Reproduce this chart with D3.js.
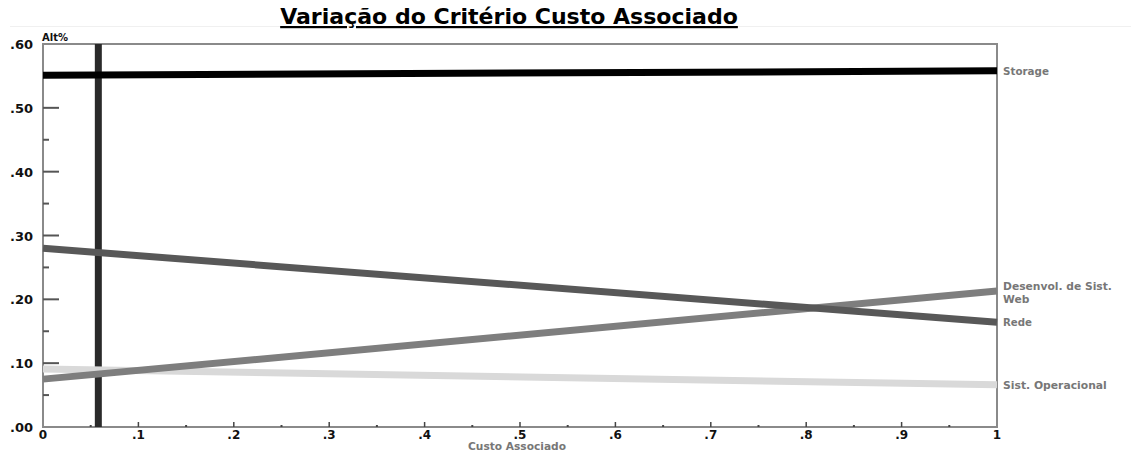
<!DOCTYPE html>
<html><head><meta charset="utf-8">
<script src="https://cdn.jsdelivr.net/npm/d3@7"></script>
<style>body{margin:0;background:#fff}svg{display:block}text{font-family:"DejaVu Sans",Verdana,sans-serif;font-weight:bold}</style>
</head><body><svg id="c" width="1131" height="454"></svg>
<script>
const seriesNames = ["Storage","Rede","Desenvol. de Sist. Web","Sist. Operacional"];
const xPoints = [0,1];
const storageValues = [0.551,0.558];
const redeValues = [0.280,0.164];
const webValues = [0.075,0.213];
const soValues = [0.091,0.066];
const currentWeight = 0.058;
const yTickValues = [0,0.1,0.2,0.3,0.4,0.5,0.6];
const yTickLabels = [".00",".10",".20",".30",".40",".50",".60"];
const xTickValues = [0,0.1,0.2,0.3,0.4,0.5,0.6,0.7,0.8,0.9,1];
const xTickLabels = ["0",".1",".2",".3",".4",".5",".6",".7",".8",".9","1"];

const svg = d3.select("#c");
const L=43,R=997,T=44,B=427;
const x = d3.scaleLinear().domain([0,1]).range([L,R]);
const y = d3.scaleLinear().domain([0,0.6]).range([B,T]);

function fit(sel, w){
  const n = sel.node(); const fs = +sel.attr("font-size") || 10;
  const cur = n.getComputedTextLength();
  if (cur>0) sel.attr("font-size", fs*w/cur);
  return sel;
}

// title
svg.append("line").attr("x1",10).attr("x2",1131).attr("y1",26.5).attr("y2",26.5).attr("stroke","#f0f0f0");
const title = svg.append("text").attr("x",509).attr("y",24).attr("text-anchor","middle").attr("font-size",18)
  .attr("text-decoration","underline").attr("fill","#000").text("Variação do Critério Custo Associado");
fit(title,458);

// frame
svg.append("rect").attr("x",L).attr("y",T).attr("width",R-L).attr("height",B-T)
  .attr("fill","none").attr("stroke","#8a8a8a").attr("stroke-width",2);

// y ticks
const yMinor = d3.range(0.05,0.6,0.1);
svg.append("g").selectAll("line.maj").data(yTickValues.slice(1,-1)).join("line")
  .attr("x1",L).attr("x2",L+16).attr("y1",d=>y(d)).attr("y2",d=>y(d)).attr("stroke","#555").attr("stroke-width",2);
svg.append("g").selectAll("line").data(yMinor).join("line")
  .attr("x1",L).attr("x2",L+6).attr("y1",d=>y(d)).attr("y2",d=>y(d)).attr("stroke","#555").attr("stroke-width",2);
svg.append("g").selectAll("text").data(yTickValues).join("text")
  .attr("x",33).attr("y",d=>y(d)+5).attr("text-anchor","end").attr("font-size",13).attr("fill","#111")
  .text((d,i)=>yTickLabels[i]);
svg.append("text").attr("x",42).attr("y",41).attr("font-size",10).attr("fill","#111").text("Alt%");

// x ticks
const xMinor = d3.range(0.05,1,0.1);
svg.append("g").selectAll("line").data(xTickValues.slice(1,-1)).join("line")
  .attr("x1",d=>x(d)).attr("x2",d=>x(d)).attr("y1",B).attr("y2",B-5).attr("stroke","#444").attr("stroke-width",1.5);
svg.append("g").selectAll("line").data(xMinor).join("line")
  .attr("x1",d=>x(d)).attr("x2",d=>x(d)).attr("y1",B).attr("y2",B-2).attr("stroke","#444").attr("stroke-width",2);
svg.append("g").selectAll("text").data(xTickValues).join("text")
  .attr("x",d=>x(d)).attr("y",439).attr("text-anchor","middle").attr("font-size",12).attr("fill","#111")
  .text((d,i)=>xTickLabels[i]);
fit(svg.append("text").attr("x",517).attr("y",450).attr("text-anchor","middle").attr("font-size",9).attr("fill","#777").text("Custo Associado"),98);

// series
const line = d3.line().x((d,i)=>x(xPoints[i])).y(d=>y(d));
svg.append("line").attr("x1",x(currentWeight)).attr("x2",x(currentWeight)).attr("y1",T).attr("y2",B)
  .attr("stroke","#2a2a2a").attr("stroke-width",7);
const series = [
  {v:soValues,c:"#d9d9d9"},
  {v:webValues,c:"#7e7e7e"},
  {v:redeValues,c:"#585858"},
  {v:storageValues,c:"#000"}
];
svg.append("g").selectAll("path").data(series).join("path")
  .attr("d",d=>line(d.v)).attr("fill","none").attr("stroke",d=>d.c).attr("stroke-width",7);

// right labels
const lab = svg.append("g").attr("fill","#777");
fit(lab.append("text").attr("font-size",9.5).attr("x",1003).attr("y",y(storageValues[1])+4).text(seriesNames[0]),46);
fit(lab.append("text").attr("font-size",9.5).attr("x",1003).attr("y",y(redeValues[1])+4).text(seriesNames[1]),29);
const wt = lab.append("text").attr("font-size",9.5).attr("x",1003).attr("y",y(webValues[1])-1);
wt.append("tspan").attr("x",1003).text("Desenvol. de Sist.");
const w2 = wt.append("tspan").attr("x",1003).attr("dy",13).text("Web");
const wl = wt.node().getSubStringLength(0,18);
if (wl>0) wt.attr("font-size",9.5*109/wl);
fit(lab.append("text").attr("font-size",9.5).attr("x",1003).attr("y",y(soValues[1])+4).text(seriesNames[3]),104);
</script></body></html>
